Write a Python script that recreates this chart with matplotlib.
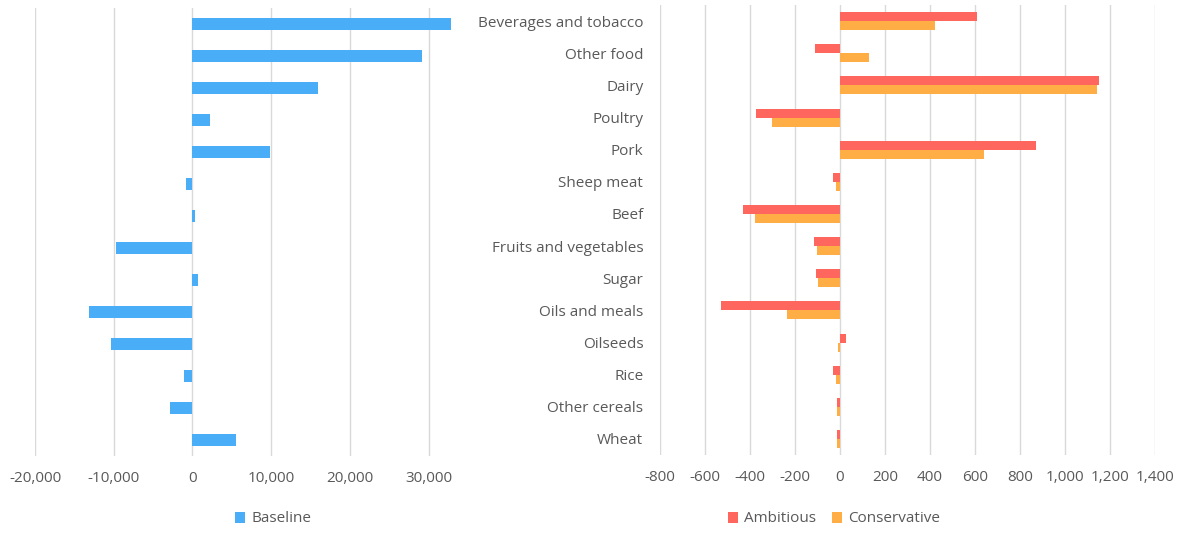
import matplotlib.pyplot as plt
import numpy as np

plt.rcParams['font.family'] = ['Open Sans', 'DejaVu Sans']

categories = ['Beverages and tobacco', 'Other food', 'Dairy', 'Poultry', 'Pork',
              'Sheep meat', 'Beef', 'Fruits and vegetables', 'Sugar', 'Oils and meals',
              'Oilseeds', 'Rice', 'Other cereals', 'Wheat']
baseline = [32800, 29150, 15900, 2250, 9870, -800, 380, -9740, 720, -13090,
            -10380, -1060, -2880, 5550]
ambitious = [609, -110, 1153, -374, 870, -31, -431, -117, -105, -529,
             28, -30, -13, -13]
conservative = [420, 130, 1143, -304, 642, -16, -376, -104, -98, -237,
                -10, -18, -13, -13]

left_ticks = [-20000, -10000, 0, 10000, 20000, 30000]
right_ticks = list(range(-800, 1401, 200))

BLUE = '#4AADF7'
RED = '#FF665E'
ORANGE = '#FFAD45'
GRID = '#D9D9D9'
TXT = '#595959'
FS = 11

W, H = 1188, 540
fig = plt.figure(figsize=(W / 100, H / 100), dpi=100)

y = np.arange(len(categories))


def style(ax, ticks):
    ax.set_ylim(len(categories) - 0.5, -0.5)
    ax.set_xticks(ticks)
    ax.set_xticklabels([f'{t:,}' for t in ticks])
    ax.grid(axis='x', color=GRID, linewidth=1)
    ax.set_axisbelow(True)
    for s in ax.spines.values():
        s.set_visible(False)
    ax.tick_params(axis='x', length=0, pad=11, labelsize=FS, labelcolor=TXT)


# left panel: baseline
axl = fig.add_axes([35 / W, (H - 456) / H, 433 / W, 448 / H])
axl.barh(y, baseline, height=0.375, color=BLUE, label='Baseline')
axl.set_xlim(-20000, 35000)
style(axl, left_ticks)
axl.set_yticks([])
axl.legend(loc='center', bbox_to_anchor=(273 / W, 1 - 519 / H),
           bbox_transform=fig.transFigure, frameon=False, handlelength=0.7,
           handleheight=0.7, handletextpad=0.4, fontsize=FS, labelcolor=TXT)

# right panel: scenarios
axr = fig.add_axes([660 / W, (H - 455) / H, 495 / W, 450 / H])
bh = 0.28
axr.barh(y - bh / 2, ambitious, height=bh, color=RED, label='Ambitious')
axr.barh(y + bh / 2, conservative, height=bh, color=ORANGE, label='Conservative')
axr.set_xlim(-800, 1400)
style(axr, right_ticks)
axr.set_yticks(y)
axr.set_yticklabels(categories)
axr.tick_params(axis='y', length=0, pad=12, labelsize=FS, labelcolor=TXT)
axr.legend(loc='center', bbox_to_anchor=(834 / W, 1 - 519 / H),
           bbox_transform=fig.transFigure, frameon=False, ncol=2,
           handlelength=0.7, handleheight=0.7, handletextpad=0.4,
           columnspacing=1.0, fontsize=FS, labelcolor=TXT)

fig.savefig('out.png', dpi=100)
plt.close()
